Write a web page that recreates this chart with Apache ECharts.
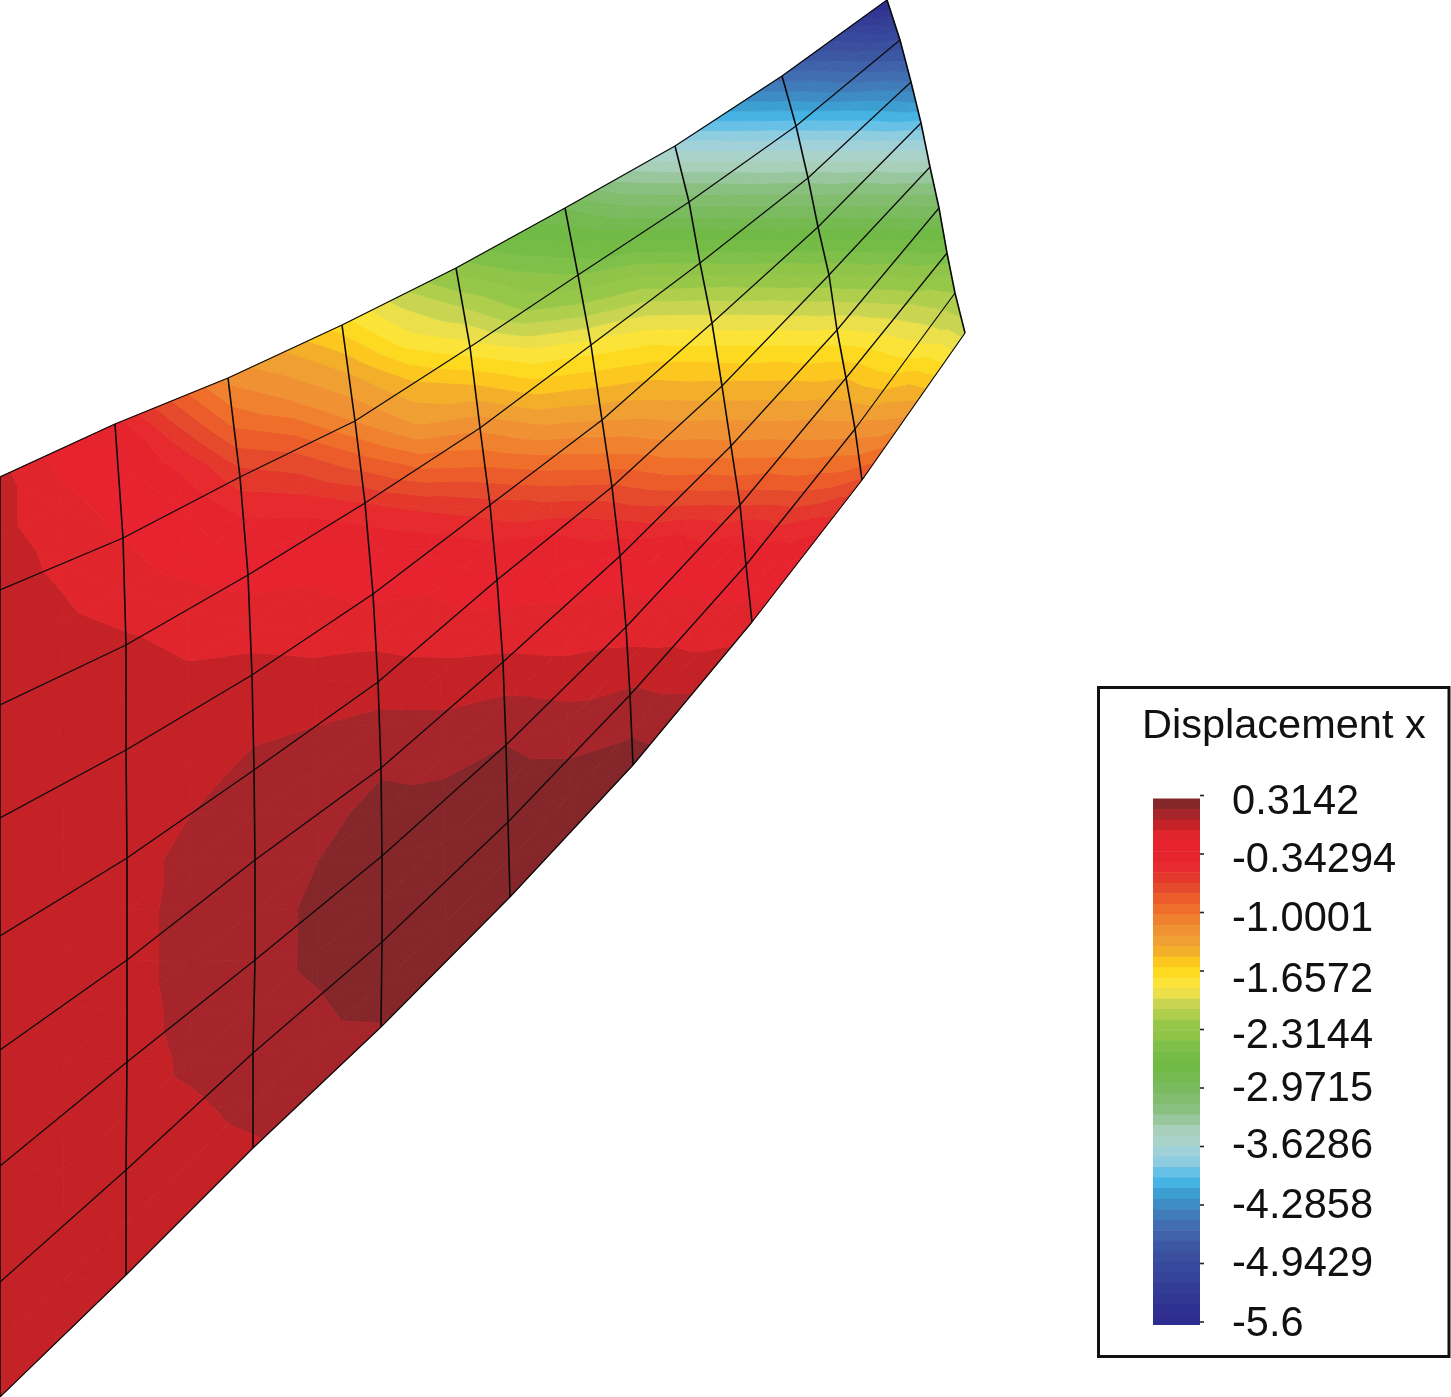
<!DOCTYPE html>
<html><head><meta charset="utf-8">
<style>html,body{margin:0;padding:0;background:#fff}#c{width:1451px;height:1397px}</style>
<script src="https://cdn.jsdelivr.net/npm/echarts@6/dist/echarts.min.js"></script>
</head><body><div id="c"></div>
<script>
// Mesh nodes: meshX[row][column], meshY[row][column]
const meshX = [
 [0,115,228,342,456,565,675,782,887],
 [0,123,240,355,470,578,689,796,900],
 [0,126,248,365,480,591,700,808,911],
 [0,126,252,373,490,602,712,818,921],
 [0,127,254,378,497,612,722,829,930],
 [0,127,255,381,503,620,731,837,939],
 [0,127,255,382,506,626,740,846,947],
 [0,126,253,382,508,630,746,855,955],
 [0,126,253,381,510,633,752,862,965]
];
const meshY = [
 [477,424,378,325,268,208,146,76,0],
 [590,538,477,421,347,275,202,126,40],
 [705,645,575,503,428,345,263,178,82],
 [818,750,675,594,505,420,323,227,123],
 [936,858,770,682,580,487,386,275,167],
 [1050,960,860,768,662,556,446,330,208],
 [1166,1062,960,856,745,627,505,378,253],
 [1282,1170,1053,942,822,695,565,429,293],
 [1397,1275,1148,1027,897,765,622,480,333]
];
// Colour-level reading at every element corner and mid-side, per half-column (0 = top of the legend, 50 = bottom)
const levelsByColumn = [
 [2.7,2.7,2.5,2.5,2.5,2.5,2.5,2.5,2.5,2.5,2.5,2.5,2.5,2.5,2.5,2.5,2.5],
 [4.3,3.7,3.2,2.8,2.6,2.5,2.5,2.5,2.5,2.5,2.5,2.5,2.5,2.5,2.5,2.5,2.5],
 [5.5,4.5,4,3.6,2.8,2.5,2.4,2.4,2.4,2.4,2.4,2.4,2.4,2.4,2.4,2.4,2.5],
 [9,6.5,5,4.3,3.6,3.0,2.6,2.4,2.0,1.7,1.6,1.6,1.7,1.85,2.15,2.4,2.5],
 [12.3,10,7.5,5.7,4.3,3.5,2.6,2.2,1.8,1.6,1.5,1.4,1.4,1.4,1.5,1.75,2.1],
 [14,12,9.2,7,5,4,3.4,2.6,2.0,1.6,1.3,1.0,0.8,0.8,1.05,1.3,1.4],
 [16.5,14,12,9.5,7,5,4.2,3.2,2.5,1.7,1.1,0.7,0.4,0.4,0.4,0.5,1.05],
 [19.5,17.5,14.8,13,10.2,7.2,5.2,4.1,3.5,2.7,1.9,1.3,0.7,0.4,0.3,0.3,0.4],
 [22.5,20,17.6,14.8,12.2,10,7.6,6,4.7,3.7,2.8,1.8,1.0,0.6,0.3,0.3,0.4],
 [25,22.8,21,18,15.5,13,10.5,8.2,6,4.6,3.9,3.2,2.3,1.6,1.0,0.6,0.4],
 [27,25,23,20.5,17.6,15.3,13,11,8.8,6.9,5,4,3.4,2.7,1.8,1.1,0.6],
 [30.4,27.8,25.2,22.3,19.8,17.4,15.4,13.8,12.2,10.4,8.3,6,4.8,4,3.4,2.8,2.0],
 [33.4,30.8,28.3,25.7,23,20.5,18.4,16.4,14.7,13.2,11.7,10,8,5.9,4.8,4.2,3.5],
 [37,34.3,31.7,29.2,26.7,24.4,21.9,19.8,17.9,16.1,14.6,13.3,11.9,10.4,8.6,6.7,5.2],
 [40.5,38,35.4,32.8,30.4,28.3,26.1,24,21.9,19.9,17.9,16.4,15,13.9,12.5,11,8.8],
 [44.3,42,40,37.4,35,32.8,30.6,28.7,26.7,24.6,22.5,20.8,19.2,18,16.8,15,13.6],
 [49.5,46.7,44,42,39.9,38,35.7,33.5,31.4,29.6,27.8,25.9,23.9,22.1,21,20.2,19.3]
];
// Legend colour bands, top (0.3142) to bottom (-5.6)
const bandColors = [
 '#85262a','#a5252a','#c42227','#e1252c','#e6232e','#e6242e','#e62a2d','#e4382c','#e44a2b','#ec5b2a',
 '#ef6f2a','#f0812e','#f09133','#f0a032','#f3ae2a','#fcc71e','#fdd91f','#fbe437','#ece04a','#c9d551',
 '#afcf4c','#97c748','#8fc449','#7fc04a','#74bc46','#70ba45','#74ba50','#7bbb5f','#82bd6e','#89c07f',
 '#98c79d','#a7cfb9','#a9d2c8','#a0d1d8','#8ecde0','#67c0e6','#45b3e3','#3d9fd1','#3e8cc5','#407cb9',
 '#416eb0','#3f62aa','#3c57a4','#3a509f','#37499c','#354399','#333d96','#313793','#2f3191','#2e2d8f'
];
const legendTitle = 'Displacement x';
const tickValues = [0.3142,-0.34294,-1.0001,-1.6572,-2.3144,-2.9715,-3.6286,-4.2858,-4.9429,-5.6];
const legendMax = 0.3142, legendMin = -5.6;

const labelNudge = [4.5,4,4.5,7,4.5,-1,-2.5,-1,-1.5,0];
const FONT = '"Liberation Sans", Arial, sans-serif';
const bandStep = (legendMax - legendMin) / bandColors.length;

function nodeAt(s, t) {
  const c = s / 2, r = t / 2;
  const c0 = Math.floor(c), r0 = Math.floor(r);
  const c1 = Math.min(c0 + 1, 8), r1 = Math.min(r0 + 1, 8);
  const u = c - c0, w = r - r0;
  const mix = m => (m[r0][c0]*(1-u) + m[r0][c1]*u)*(1-w) + (m[r1][c0]*(1-u) + m[r1][c1]*u)*w;
  return [mix(meshX), mix(meshY)];
}
function clipLevel(poly, limit, keepAbove) {
  const out = [];
  for (let i = 0; i < poly.length; i++) {
    const a = poly[i], b = poly[(i + 1) % poly.length];
    const ina = keepAbove ? a[2] >= limit : a[2] <= limit;
    const inb = keepAbove ? b[2] >= limit : b[2] <= limit;
    if (ina) out.push(a);
    if (ina !== inb) {
      const f = (limit - a[2]) / (b[2] - a[2]);
      out.push([a[0] + (b[0]-a[0])*f, a[1] + (b[1]-a[1])*f, limit]);
    }
  }
  return out;
}
function renderCell(params, api) {
  const s = api.value(0), t = api.value(1);
  const corner = (ss, tt) => {
    const p = api.coord(nodeAt(ss, tt));
    return [p[0], p[1], levelsByColumn[ss][tt]];
  };
  const A = corner(s,t), B = corner(s+1,t), C = corner(s+1,t+1), D = corner(s,t+1);
  const children = [];
  [[A,B,C],[A,C,D]].forEach(tri => {
    const lv = tri.map(p => p[2]);
    const k0 = Math.floor(Math.min(...lv));
    const k1 = Math.min(Math.floor(Math.max(...lv)), bandColors.length - 1);
    for (let k = k0; k <= k1; k++) {
      let poly = clipLevel(tri, k, true);
      if (poly.length >= 3) poly = clipLevel(poly, k + 1, false);
      if (poly.length >= 3) children.push({
        type:'polygon', shape:{points:poly.map(p => [p[0],p[1]])},
        style:{fill:bandColors[k], stroke:bandColors[k], lineWidth:0.8}
      });
    }
  });
  return {type:'group', children};
}
const cells = [];
for (let s = 0; s < 16; s++) for (let t = 0; t < 16; t++) cells.push([s,t]);

const meshLines = [];
meshX.forEach((row, r) => meshLines.push({w:1.2, pts:row.map((x,c) => [x, meshY[r][c]])}));
for (let c = 0; c < 9; c++) meshLines.push({w:1.6, pts:meshX.map((row,r) => [row[c], meshY[r][c]])});

const rich = {};
labelNudge.forEach((d,i) => {
  rich['r'+i] = {fontSize:41.6, fontFamily:FONT, color:'#111',
    padding: d >= 0 ? [2*d,0,0,0] : [0,0,-2*d,0]};
});

const option = {
  animation:false,
  backgroundColor:'#fff',
  title:{text:legendTitle, left:1137, top:701,
    textStyle:{fontSize:41.5, fontWeight:'normal', fontFamily:FONT, color:'#111'}},
  grid:[
    {left:0, top:0, width:1451, height:1397, show:false},
    {left:1153, top:798.5, width:47, height:526.5, show:false}
  ],
  xAxis:[
    {type:'value', gridIndex:0, min:0, max:1451, show:false},
    {type:'value', gridIndex:1, min:0, max:1, show:false}
  ],
  yAxis:[
    {type:'value', gridIndex:0, min:0, max:1397, inverse:true, show:false},
    {type:'value', gridIndex:1, min:legendMin, max:legendMax, position:'right', scale:true,
     axisLine:{show:false}, splitLine:{show:false}, axisTick:{show:false},
     axisLabel:{show:true, margin:32, customValues:tickValues, hideOverlap:false, showMinLabel:true, showMaxLabel:true,
       fontSize:41.6, fontFamily:FONT, color:'#111', rich,
       formatter:v => { const i = tickValues.indexOf(v); return '{r'+i+'|'+v+'}'; }}}
  ],
  graphic:[{type:'rect', silent:true, shape:{x:1098.5,y:687.5,width:350.5,height:669},
    style:{fill:'none', stroke:'#111', lineWidth:3}}],
  series:[
    {type:'custom', xAxisIndex:0, yAxisIndex:0, data:cells, renderItem:renderCell, silent:true, clip:true, progressive:0},
    ...meshLines.map(m => ({type:'line', xAxisIndex:0, yAxisIndex:0, data:m.pts, showSymbol:false, silent:true,
       lineStyle:{color:'#0a0a0a', width:m.w}, z:5})),
    {type:'custom', xAxisIndex:1, yAxisIndex:1, silent:true, clip:false, progressive:0,
     data:bandColors.map((c,k) => [k]),
     renderItem:(p,api) => {
       const k = api.value(0);
       const a = api.coord([0, legendMax - bandStep*k]);
       const b = api.coord([1, legendMax - bandStep*(k+1)]);
       return {type:'rect', shape:{x:a[0], y:a[1], width:b[0]-a[0], height:b[1]-a[1]+(k<49?0.6:0)},
         style:{fill:bandColors[k]}};
     }},
    {type:'custom', xAxisIndex:1, yAxisIndex:1, silent:true, clip:false, progressive:0, z:6,
     data:tickValues.map(v => [v]),
     renderItem:(p,api) => {
       const q = api.coord([1, api.value(0)]);
       return {type:'line', shape:{x1:q[0], y1:q[1]-3, x2:q[0]+4, y2:q[1]-3},
         style:{stroke:'#222', lineWidth:1.6}};
     }}
  ]
};
const chart = echarts.init(document.getElementById('c'), null, {renderer:'canvas'});
chart.setOption(option);
</script></body></html>
